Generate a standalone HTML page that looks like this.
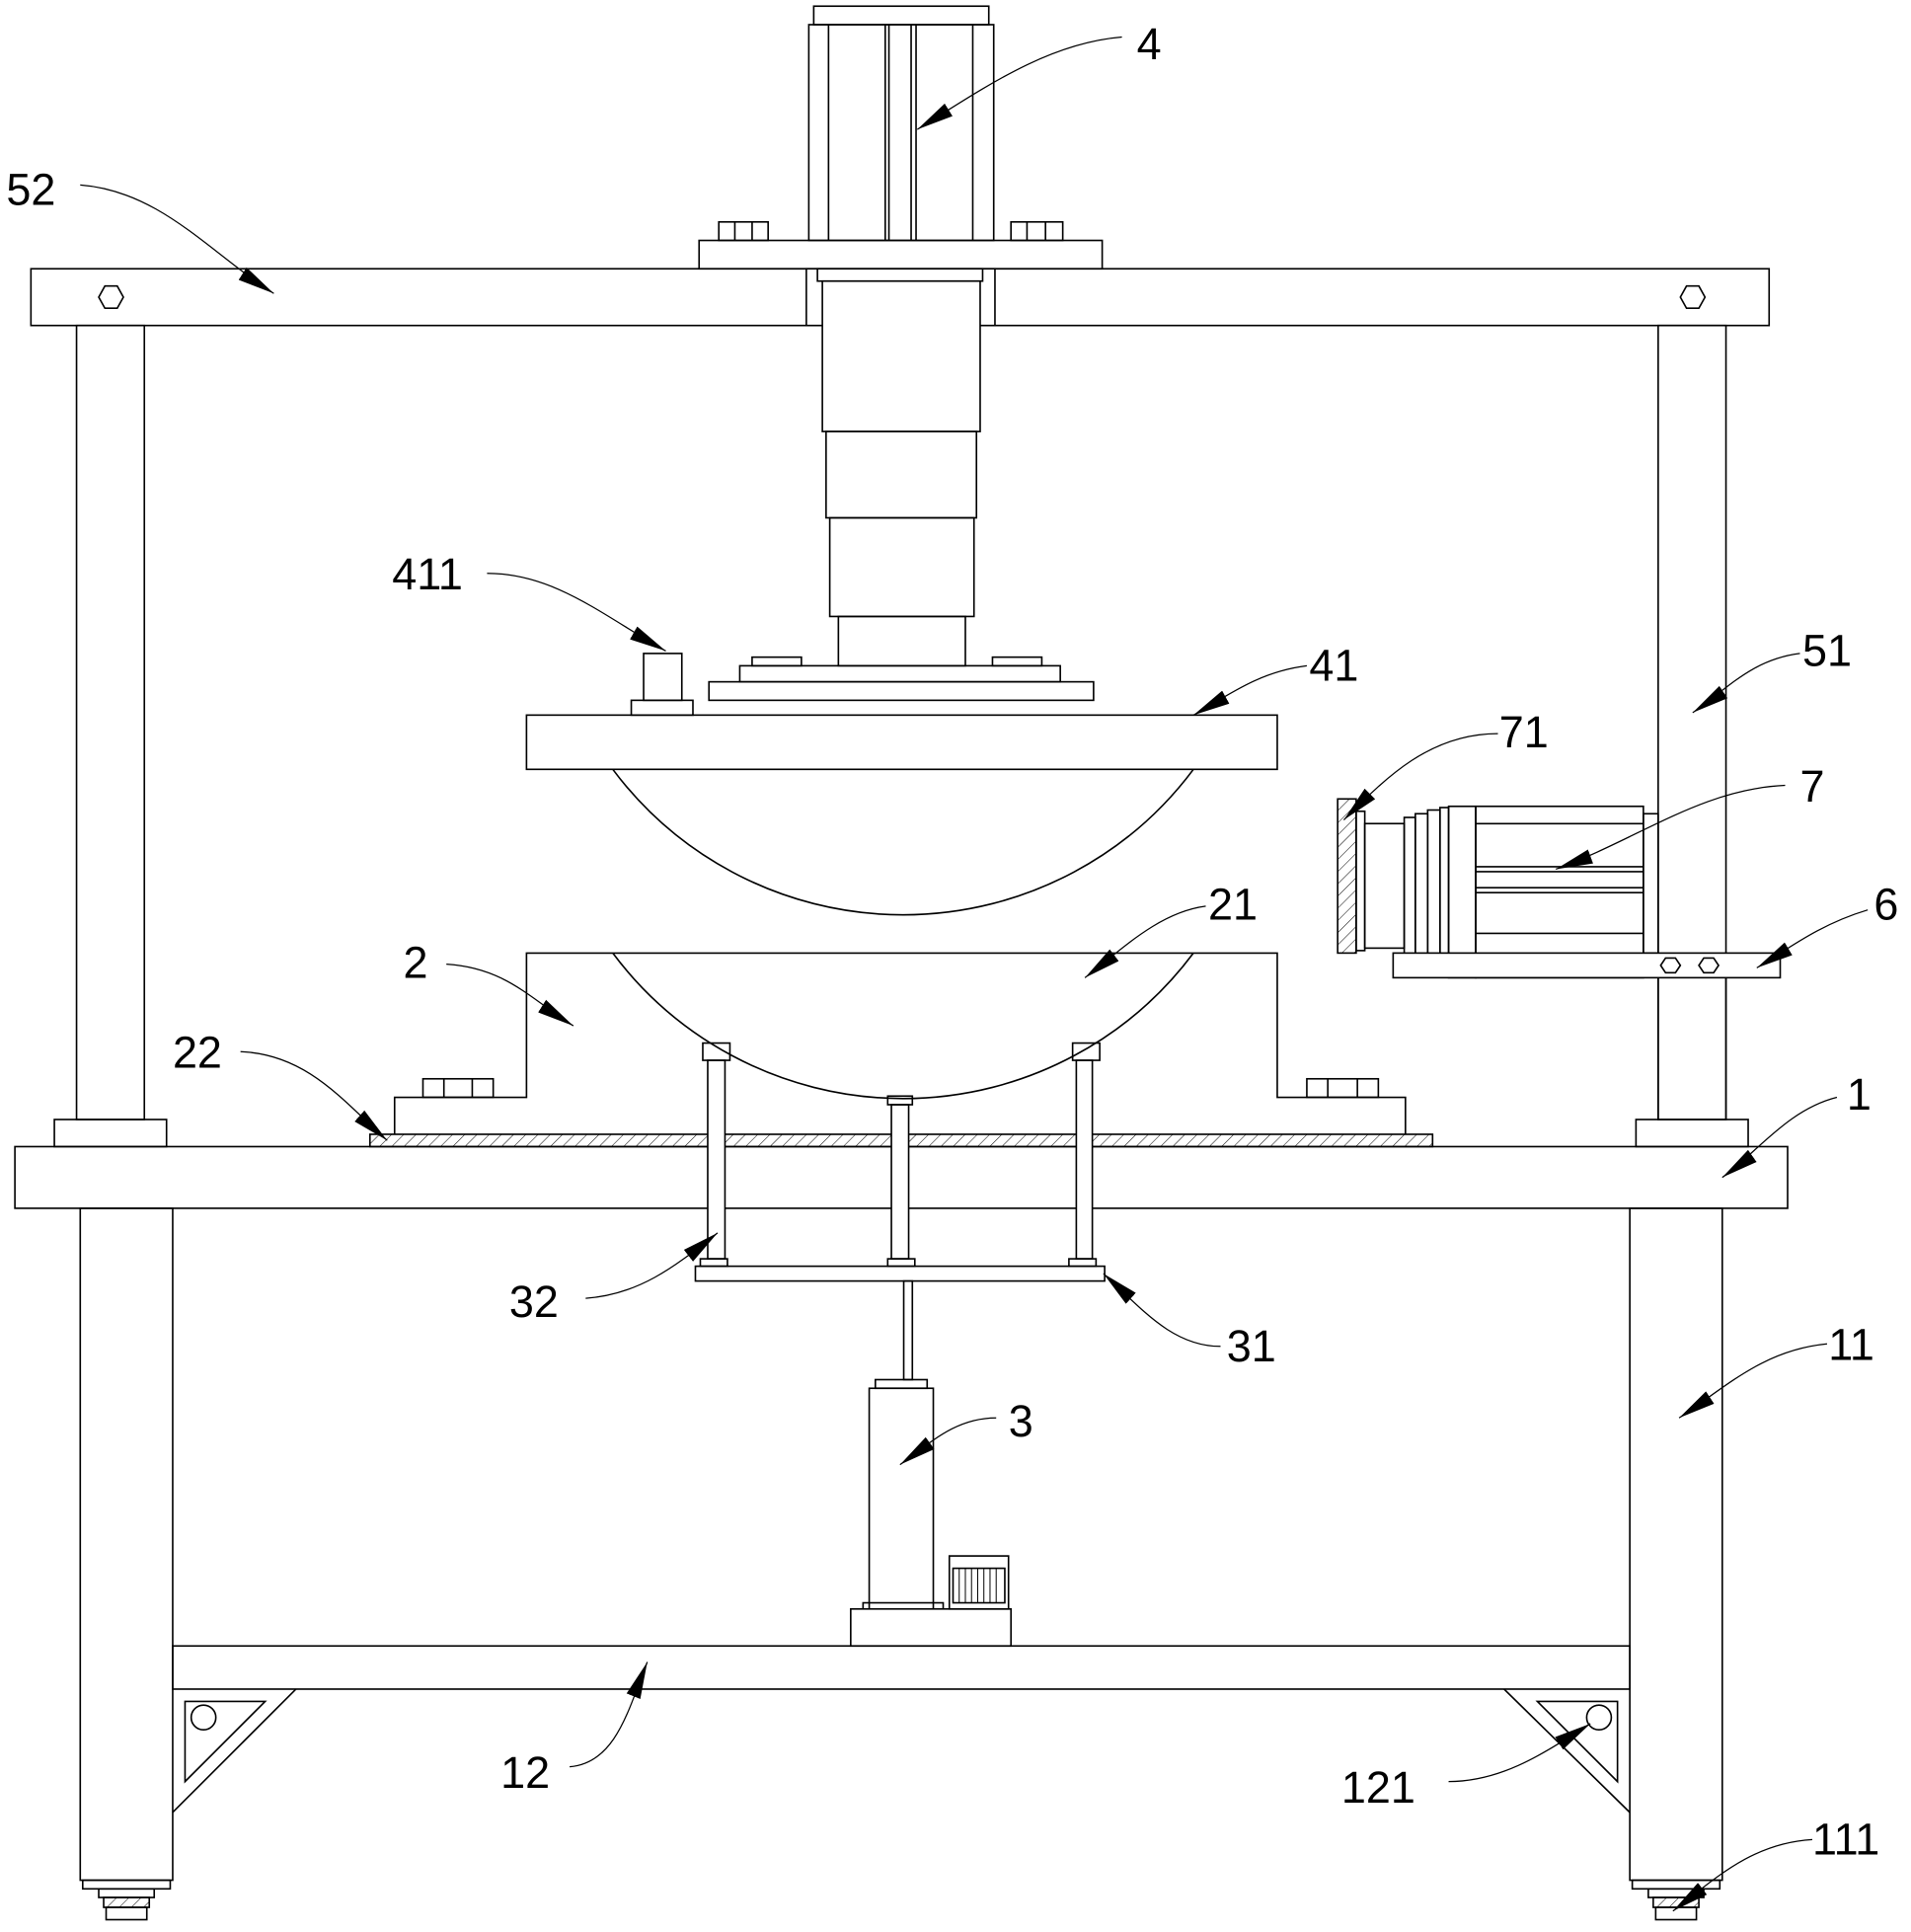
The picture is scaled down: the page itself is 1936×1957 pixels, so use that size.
<!DOCTYPE html>
<html><head><meta charset="utf-8"><style>
html,body{margin:0;padding:0;background:#fff}
svg{display:block}
text{font-family:"Liberation Sans",sans-serif;font-size:36px;fill:#000}
</style></head><body>
<svg width="1936" height="1957" viewBox="0 0 1550 1567" xmlns="http://www.w3.org/2000/svg">
<defs>
<pattern id="h" width="7" height="7" patternUnits="userSpaceOnUse" patternTransform="rotate(45)"><line x1="0" y1="0" x2="0" y2="7" stroke="#000" stroke-width="0.8"/></pattern>
<marker id="a" markerUnits="userSpaceOnUse" markerWidth="32" markerHeight="14" refX="30" refY="7" orient="auto"><path d="M0,1 L30,7 L0,13 Z" fill="#000"/></marker>
</defs>
<g fill="none" stroke="#000" stroke-width="1.3">
<rect x="660" y="5" width="142" height="15"/>
<rect x="656" y="20" width="150" height="175"/>
<line x1="672" y1="20" x2="672" y2="195"/><line x1="718" y1="20" x2="718" y2="195"/><line x1="721" y1="20" x2="721" y2="195"/><line x1="739" y1="20" x2="739" y2="195"/><line x1="743" y1="20" x2="743" y2="195"/><line x1="789" y1="20" x2="789" y2="195"/>
<rect x="567" y="195" width="327" height="23"/>
<rect x="583" y="180" width="40" height="15"/><line x1="596" y1="180" x2="596" y2="195"/><line x1="610" y1="180" x2="610" y2="195"/>
<rect x="820" y="180" width="42" height="15"/><line x1="833" y1="180" x2="833" y2="195"/><line x1="848" y1="180" x2="848" y2="195"/>
<rect x="25" y="218" width="1410" height="46"/>
<polygon points="100,241 95,250 85,250 80,241 85,232 95,232"/>
<polygon points="1383,241 1378,250 1368,250 1363,241 1368,232 1378,232"/>
<rect x="654" y="218" width="153" height="46" fill="#fff"/>
<rect x="663" y="218" width="134" height="10" fill="#fff"/>
<rect x="667" y="228" width="128" height="122" fill="#fff"/>
<rect x="670" y="350" width="122" height="70"/>
<rect x="673" y="420" width="117" height="80"/>
<rect x="680" y="500" width="103" height="40"/>
<rect x="600" y="540" width="260" height="13"/>
<rect x="610" y="533" width="40" height="7"/><rect x="805" y="533" width="40" height="7"/>
<rect x="575" y="553" width="312" height="15"/>
<rect x="427" y="580" width="609" height="44"/>
<rect x="512" y="568" width="50" height="12"/><rect x="522" y="530" width="31" height="38"/>
<path d="M497,624 A294,294 0 0 0 968,624"/>
<rect x="62" y="264" width="55" height="644"/>
<rect x="1345" y="264" width="55" height="644"/>
<rect x="44" y="908" width="91" height="22"/>
<rect x="1327" y="908" width="91" height="22"/>
<rect x="12" y="930" width="1438" height="50"/>
<path d="M320,920 L320,890 L427,890 L427,773 L1036,773 L1036,890 L1140,890 L1140,920"/>
<rect x="343" y="875" width="57" height="15"/><line x1="360" y1="875" x2="360" y2="890"/><line x1="383" y1="875" x2="383" y2="890"/>
<rect x="1060" y="875" width="58" height="15"/><line x1="1077" y1="875" x2="1077" y2="890"/><line x1="1101" y1="875" x2="1101" y2="890"/>
<path d="M497,773 A294,294 0 0 0 968,773"/>
<rect x="300" y="920" width="862" height="10" fill="url(#h)"/>
<rect x="574" y="860" width="14" height="161" fill="#fff"/><rect x="570" y="846" width="22" height="14"/>
<rect x="723" y="896" width="14" height="125" fill="#fff"/><rect x="720" y="889" width="20" height="7"/>
<rect x="873" y="860" width="13" height="161" fill="#fff"/><rect x="870" y="846" width="22" height="14"/>
<rect x="568" y="1021" width="22" height="6"/><rect x="720" y="1021" width="22" height="6"/><rect x="867" y="1021" width="22" height="6"/>
<rect x="564" y="1027" width="332" height="12"/>
<rect x="733" y="1039" width="7" height="80"/>
<rect x="710" y="1119" width="42" height="7"/>
<rect x="705" y="1126" width="52" height="179"/>
<rect x="700" y="1300" width="65" height="18"/>
<rect x="690" y="1305" width="130" height="30" fill="#fff"/>
<rect x="770" y="1262" width="48" height="43" fill="#fff"/>
<rect x="773" y="1272" width="42" height="28"/>
<g stroke-width="0.8"><line x1="778" y1="1272" x2="778" y2="1300"/><line x1="783" y1="1272" x2="783" y2="1300"/><line x1="788" y1="1272" x2="788" y2="1300"/><line x1="793" y1="1272" x2="793" y2="1300"/><line x1="798" y1="1272" x2="798" y2="1300"/><line x1="803" y1="1272" x2="803" y2="1300"/><line x1="808" y1="1272" x2="808" y2="1300"/></g>
<rect x="65" y="980" width="75" height="545"/>
<rect x="1322" y="980" width="75" height="545"/>
<rect x="67" y="1525" width="71" height="7"/><rect x="80" y="1532" width="45" height="7"/><rect x="84" y="1539" width="37" height="8" fill="url(#h)"/><rect x="86" y="1547" width="33" height="10"/>
<rect x="1324" y="1525" width="71" height="7"/><rect x="1337" y="1532" width="45" height="7"/><rect x="1341" y="1539" width="37" height="8" fill="url(#h)"/><rect x="1343" y="1547" width="33" height="10"/>
<rect x="140" y="1335" width="1182" height="35"/>
<path d="M240,1370 L140,1470"/><polygon points="150,1380 215,1380 150,1445"/><circle cx="165" cy="1393" r="10"/>
<path d="M1220,1370 L1322,1470"/><polygon points="1312,1380 1247,1380 1312,1445"/><circle cx="1297" cy="1393" r="10"/>
<rect x="1085" y="648" width="15" height="125" fill="url(#h)"/>
<rect x="1100" y="658" width="7" height="113"/>
<rect x="1107" y="668" width="32" height="101"/>
<rect x="1139" y="663" width="9" height="111"/>
<rect x="1148" y="660" width="10" height="117"/>
<rect x="1158" y="657" width="10" height="122"/>
<rect x="1168" y="655" width="7" height="124"/>
<rect x="1175" y="654" width="22" height="139"/>
<rect x="1197" y="654" width="136" height="139"/>
<line x1="1197" y1="668" x2="1333" y2="668"/><line x1="1197" y1="703" x2="1333" y2="703"/><line x1="1197" y1="707" x2="1333" y2="707"/><line x1="1197" y1="720" x2="1333" y2="720"/><line x1="1197" y1="724" x2="1333" y2="724"/><line x1="1197" y1="757" x2="1333" y2="757"/>
<rect x="1333" y="660" width="12" height="113"/>
<rect x="1130" y="773" width="314" height="20" fill="#fff"/>
<polygon points="1363,783 1359,789 1351,789 1347,783 1351,777 1359,777"/>
<polygon points="1394,783 1390,789 1382,789 1378,783 1382,777 1390,777"/>
<line x1="1345" y1="793" x2="1345" y2="908"/><line x1="1400" y1="793" x2="1400" y2="908"/>
<g stroke-width="1" marker-end="url(#a)">
<path d="M910,30 C850,35 800,70 744,105"/>
<path d="M65,150 C130,155 170,205 222,238"/>
<path d="M395,465 C450,465 490,500 540,528"/>
<path d="M1060,540 C1020,545 995,565 968,580"/>
<path d="M1460,530 C1420,535 1400,560 1373,578"/>
<path d="M1215,595 C1160,595 1125,630 1090,665"/>
<path d="M1448,637 C1380,640 1330,680 1262,705"/>
<path d="M1515,738 C1475,750 1450,770 1425,785"/>
<path d="M978,735 C940,740 910,770 880,793"/>
<path d="M362,782 C410,785 430,810 465,832"/>
<path d="M195,853 C250,855 280,895 314,925"/>
<path d="M1490,890 C1450,900 1425,935 1397,955"/>
<path d="M475,1053 C520,1050 550,1025 582,1000"/>
<path d="M990,1092 C950,1092 925,1060 895,1033"/>
<path d="M1482,1090 C1430,1095 1400,1125 1362,1150"/>
<path d="M808,1150 C775,1150 755,1170 730,1188"/>
<path d="M462,1433 C500,1430 510,1385 525,1348"/>
<path d="M1175,1445 C1220,1445 1255,1420 1290,1398"/>
<path d="M1470,1492 C1420,1495 1390,1525 1357,1550"/>
</g>
</g>
<text x="922" y="48">4</text>
<text x="5" y="166">52</text>
<text x="318" y="478">411</text>
<text x="1062" y="552">41</text>
<text x="1462" y="540">51</text>
<text x="1216" y="606">71</text>
<text x="1460" y="650">7</text>
<text x="1520" y="746">6</text>
<text x="980" y="746">21</text>
<text x="327" y="793">2</text>
<text x="140" y="866">22</text>
<text x="1498" y="900">1</text>
<text x="413" y="1068">32</text>
<text x="995" y="1104">31</text>
<text x="1483" y="1103">11</text>
<text x="818" y="1165">3</text>
<text x="406" y="1450">12</text>
<text x="1088" y="1462">121</text>
<text x="1470" y="1504">111</text>
</svg>
</body></html>
